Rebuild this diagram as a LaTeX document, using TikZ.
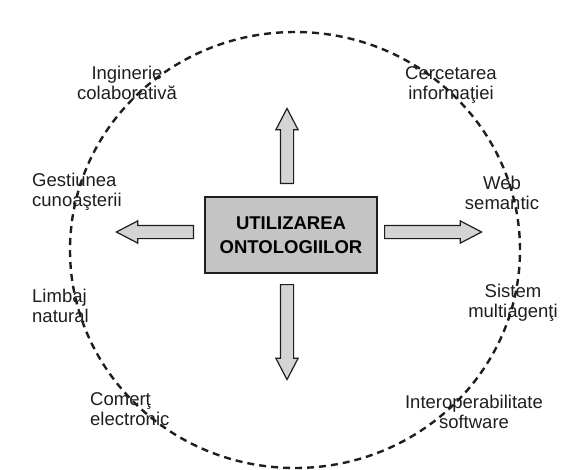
\documentclass[tikz,border=0pt]{standalone}
\usepackage{fontspec}
\setmainfont{Liberation Sans}
\usetikzlibrary{shapes.arrows, positioning, calc}
\definecolor{boxgray}{RGB}{196, 196, 196}
\definecolor{arrowgray}{RGB}{212, 212, 212}
\definecolor{inkblack}{RGB}{30, 30, 30}

\tikzset{
    centerbox/.style={draw=inkblack, line width=2pt, fill=boxgray, minimum width=172pt,
        minimum height=76pt, align=center, font=\bfseries\fontsize{18.5}{24}\selectfont},
    fatarrow/.style={single arrow, draw=inkblack, line width=1.2pt, fill=arrowgray,
        single arrow head extend=4.5pt, single arrow tip angle=55,
        inner sep=6pt, anchor=tail},
    usecase/.style={font=\fontsize{18.5}{20}\selectfont, inner sep=0pt, text=inkblack}
}

\begin{document}
\begin{tikzpicture}[x=1pt, y=-1pt]
    \useasboundingbox (0,0) rectangle (570,469);

    % Dashed boundary
    \draw[inkblack, line width=2.4pt, dash pattern=on 7pt off 5pt] (295,250) ellipse (225pt and 218pt);

    % Central box
    \node[centerbox] (ontologii) at (291,235) {UTILIZAREA\\ONTOLOGIILOR};

    % Arrows out of the box
    \node[fatarrow, shape border rotate=90, minimum height=75pt] (sus) at ([xshift=-4pt, yshift=12pt]ontologii.north) {};
    \node[fatarrow, shape border rotate=270, minimum height=95pt] (jos) at ([xshift=-4pt, yshift=-10pt]ontologii.south) {};
    \node[fatarrow, shape border rotate=180, minimum height=77pt] (stanga) at ([xshift=-10pt, yshift=3pt]ontologii.west) {};
    \node[fatarrow, shape border rotate=0, minimum height=97pt] (dreapta) at ([xshift=6pt, yshift=3pt]ontologii.east) {};

    % Application areas
    \node[usecase, align=center] (inginerie) at (127,82.5) {Inginerie\\colaborativă};
    \node[usecase, align=center] (cercetare) at (451,84.5) {Cercetarea\\informaţiei};
    \node[usecase, align=left, anchor=west] (gestiune) at (32,192) {Gestiunea\\cunoaşterii};
    \node[usecase, align=center] (web) at (502,193) {Web\\semantic};
    \node[usecase, align=left, anchor=west] (limbaj) at (32,306) {Limbaj\\natural};
    \node[usecase, align=center] (sistem) at (513,303) {Sistem\\multiagenţi};
    \node[usecase, align=left, anchor=west] (comert) at (90,409) {Comerţ\\electronic};
    \node[usecase, align=center] (interop) at (474,412) {Interoperabilitate\\software};
\end{tikzpicture}
\end{document}
